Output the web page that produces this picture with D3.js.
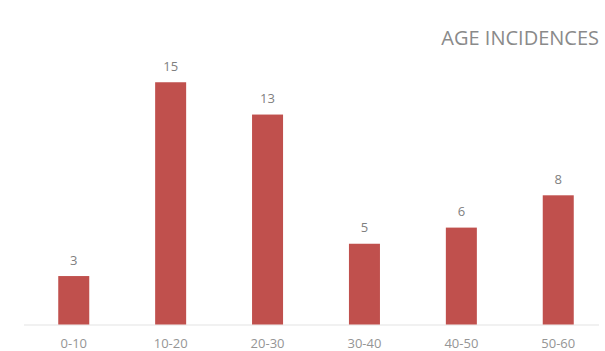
<!DOCTYPE html>
<html><head><meta charset="utf-8">
<script src="https://cdn.jsdelivr.net/npm/d3@7"></script>
<style>html,body{margin:0;padding:0;background:#fff;}svg{display:block;}</style>
</head><body>
<svg id="chart" width="605" height="351"></svg>
<script>
const categories = ["0-10", "10-20", "20-30", "30-40", "40-50", "50-60"];
const values = [3, 15, 13, 5, 6, 8];
const title = "AGE INCIDENCES";

const svg = d3.select("#chart");
const font = "'Open Sans', 'Liberation Sans', sans-serif";

const x = d3.scaleBand().domain(categories).range([25.3, 606.7]).paddingInner(0.68).paddingOuter(0.34);
const y = d3.scaleLinear().domain([0, 16]).range([324.5, 324.5 - 16 * 16.15]);

// axis baseline
svg.append("line")
  .attr("x1", 24).attr("x2", 599)
  .attr("y1", y(0) + 0.5).attr("y2", y(0) + 0.5)
  .attr("stroke", "#e3e3e3").attr("stroke-width", 1);

// bars
svg.selectAll("rect.bar").data(values).join("rect")
  .attr("class", "bar")
  .attr("x", (d, i) => x(categories[i]))
  .attr("width", x.bandwidth())
  .attr("y", d => y(d))
  .attr("height", d => y(0) - y(d))
  .attr("fill", "#C0504D");

// value labels
svg.selectAll("text.val").data(values).join("text")
  .attr("class", "val")
  .attr("x", (d, i) => x(categories[i]) + x.bandwidth() / 2)
  .attr("y", d => y(d) - 11.5)
  .attr("text-anchor", "middle")
  .attr("font-family", font).attr("font-size", 13)
  .attr("fill", "#7f7f7f")
  .text(d => d);

// x axis labels
const xAxis = d3.axisBottom(x).tickSize(0).tickPadding(0);
const gx = svg.append("g").attr("transform", `translate(0,${y(0)})`).call(xAxis);
gx.select(".domain").remove();
gx.selectAll("text")
  .attr("dy", null)
  .attr("y", 23.5)
  .attr("font-family", font).attr("font-size", 13)
  .attr("fill", "#959595");

// title
svg.append("text")
  .attr("x", 599).attr("y", 45)
  .attr("text-anchor", "end")
  .attr("font-family", font).attr("font-size", 20)
  .attr("fill", "#8a8a8a")
  .text(title);
</script>
</body></html>
